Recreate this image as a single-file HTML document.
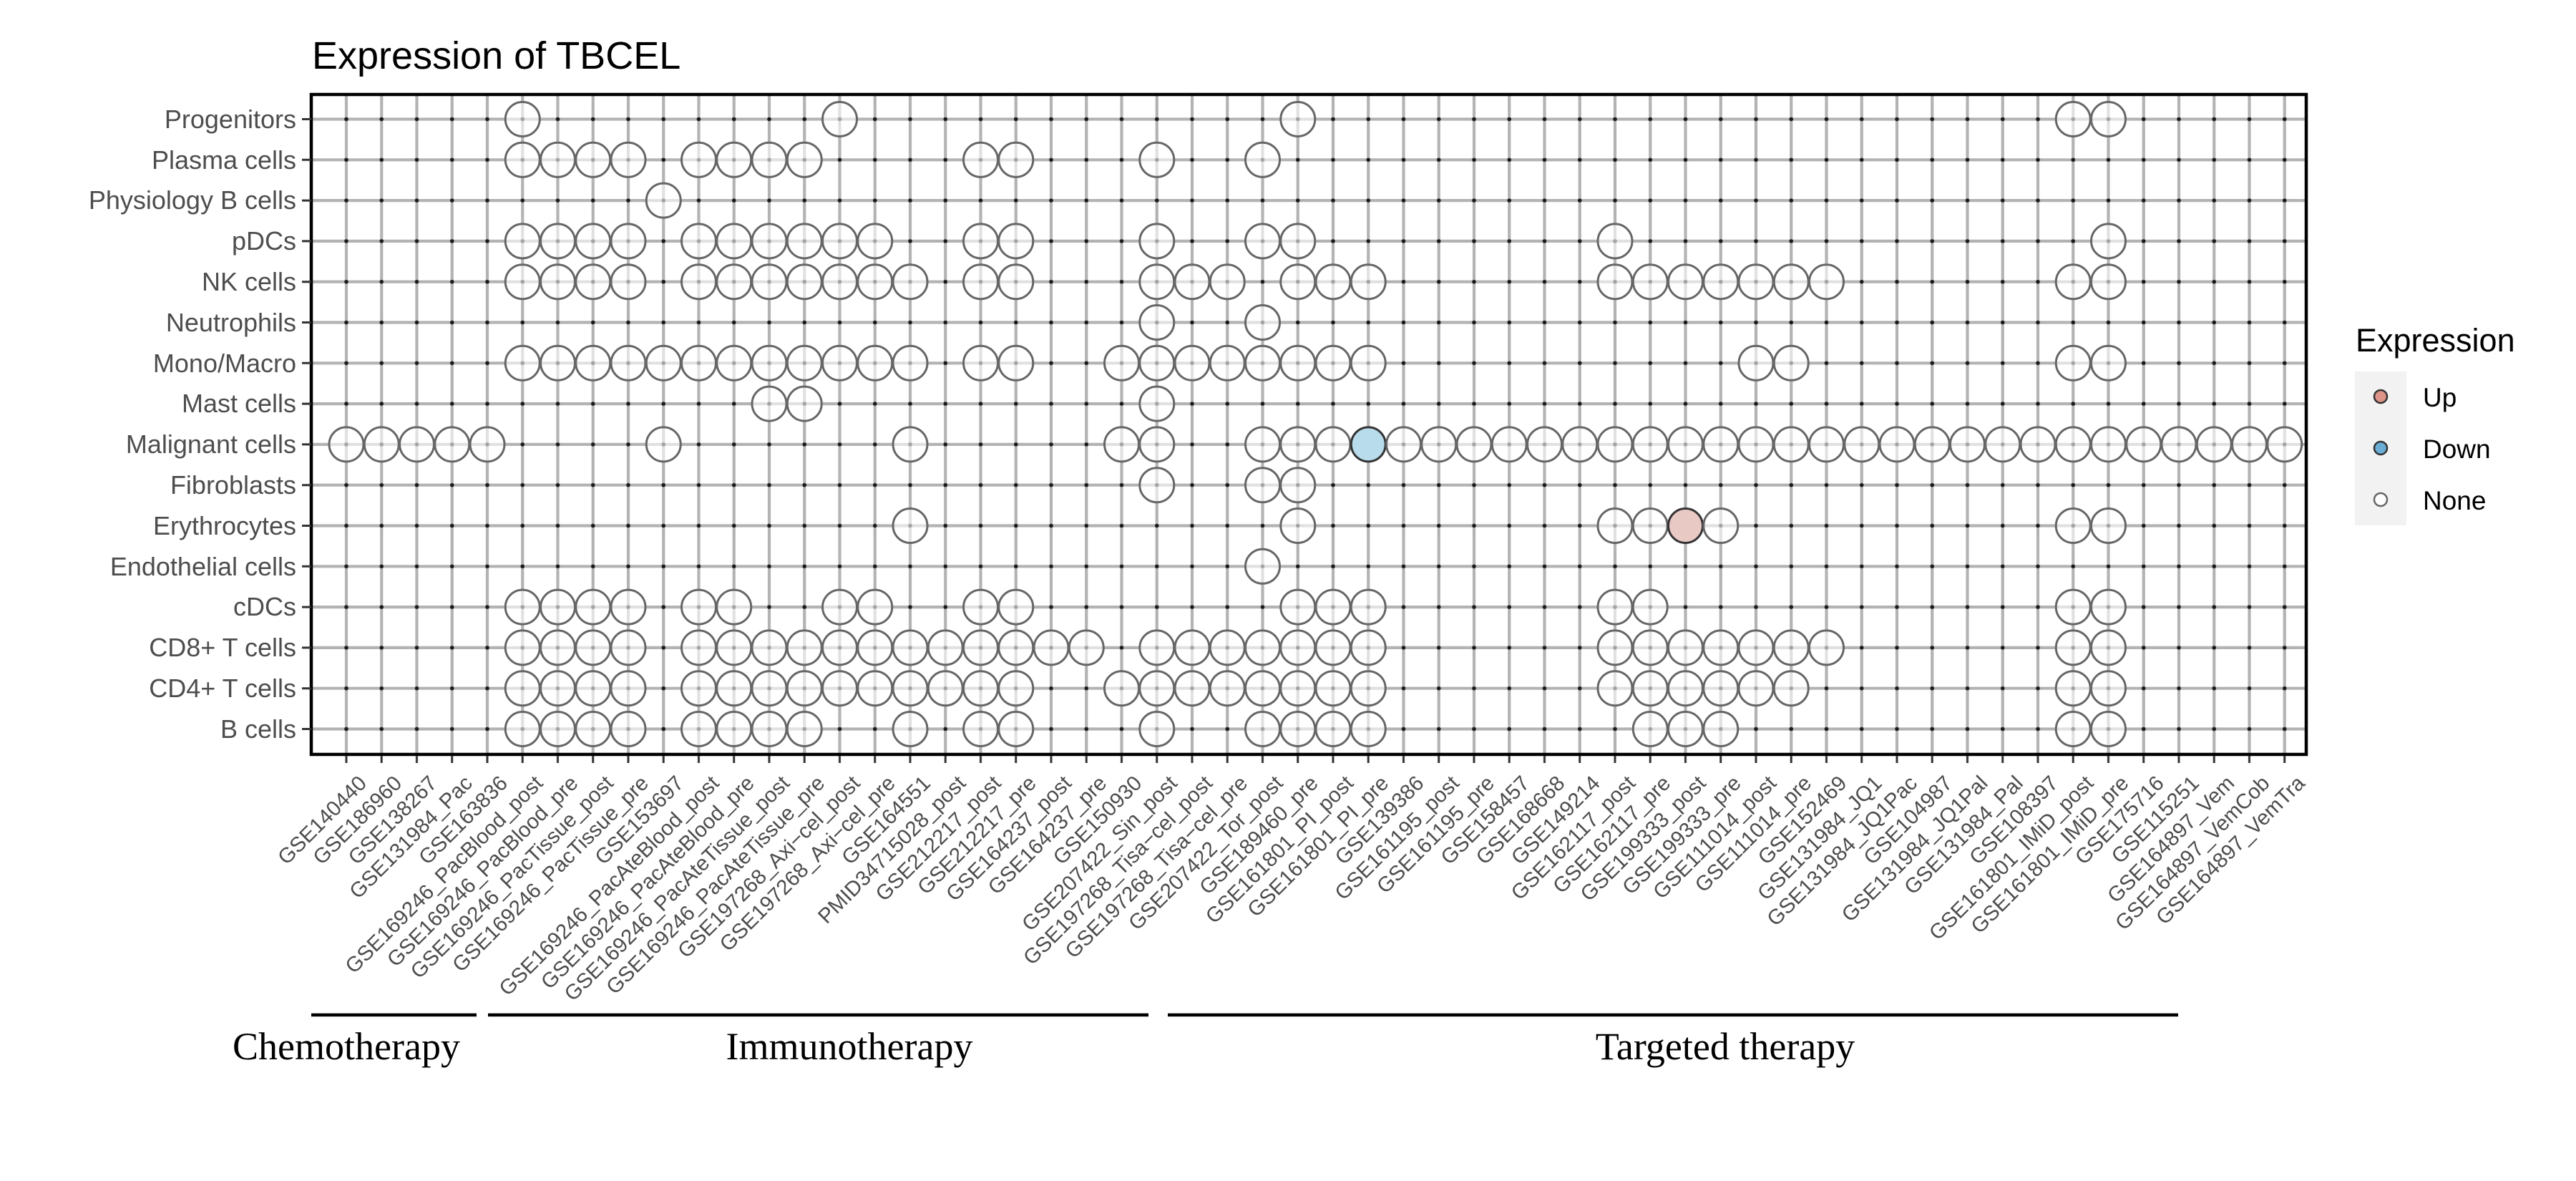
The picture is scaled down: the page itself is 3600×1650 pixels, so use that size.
<!DOCTYPE html>
<html><head><meta charset="utf-8"><style>
html,body{margin:0;padding:0;background:#fff;}
svg{display:block;}
.yl{font-family:"Liberation Sans",sans-serif;font-size:36px;fill:#4d4d4d;text-anchor:end;}
.xl{font-family:"Liberation Sans",sans-serif;font-size:29.5px;fill:#4d4d4d;text-anchor:end;}
.g{font-family:"Liberation Serif",serif;font-size:54px;fill:#000;text-anchor:middle;}
</style></head><body>
<svg width="3600" height="1650" viewBox="0 0 3600 1650" xmlns="http://www.w3.org/2000/svg">
<defs>
<pattern id="dp" patternUnits="userSpaceOnUse" x="459.375" y="138.1" width="49.25" height="56.8"><circle cx="24.625" cy="28.4" r="2.8" fill="#1a1a1a"/></pattern>
<pattern id="tp" patternUnits="userSpaceOnUse" x="459.375" y="0" width="49.25" height="2000"><rect x="23.1" y="0" width="3" height="2000" fill="#333"/></pattern>
<circle id="n" cx="0" cy="0" r="24" fill="#fff" fill-opacity="0.6" stroke="#666" stroke-width="3"/>
</defs>
<text x="436" y="96" font-family="Liberation Sans, sans-serif" font-size="54" fill="#000">Expression of TBCEL</text>
<rect x="435" y="132" width="2788" height="922" fill="#fff"/>
<g stroke="#b3b3b3" stroke-width="4.2" fill="none">
<path d="M484 132V1054M533.25 132V1054M582.5 132V1054M631.75 132V1054M681 132V1054M730.25 132V1054M779.5 132V1054M828.75 132V1054M878 132V1054M927.25 132V1054M976.5 132V1054M1025.75 132V1054M1075 132V1054M1124.25 132V1054M1173.5 132V1054M1222.75 132V1054M1272 132V1054M1321.25 132V1054M1370.5 132V1054M1419.75 132V1054M1469 132V1054M1518.25 132V1054M1567.5 132V1054M1616.75 132V1054M1666 132V1054M1715.25 132V1054M1764.5 132V1054M1813.75 132V1054M1863 132V1054M1912.25 132V1054M1961.5 132V1054M2010.75 132V1054M2060 132V1054M2109.25 132V1054M2158.5 132V1054M2207.75 132V1054M2257 132V1054M2306.25 132V1054M2355.5 132V1054M2404.75 132V1054M2454 132V1054M2503.25 132V1054M2552.5 132V1054M2601.75 132V1054M2651 132V1054M2700.25 132V1054M2749.5 132V1054M2798.75 132V1054M2848 132V1054M2897.25 132V1054M2946.5 132V1054M2995.75 132V1054M3045 132V1054M3094.25 132V1054M3143.5 132V1054M3192.75 132V1054"/>
<path d="M435 166.5H3223M435 223.3H3223M435 280.1H3223M435 336.9H3223M435 393.7H3223M435 450.5H3223M435 507.3H3223M435 564.1H3223M435 620.9H3223M435 677.7H3223M435 734.5H3223M435 791.3H3223M435 848.1H3223M435 904.9H3223M435 961.7H3223M435 1018.5H3223"/>
</g>
<rect x="459.375" y="138.1" width="2758" height="908.8" fill="url(#dp)"/>
<g transform="translate(0,166.5)"><use href="#n" x="730.25"/><use href="#n" x="1173.5"/><use href="#n" x="1813.75"/><use href="#n" x="2897.25"/><use href="#n" x="2946.5"/></g>
<g transform="translate(0,223.3)"><use href="#n" x="730.25"/><use href="#n" x="779.5"/><use href="#n" x="828.75"/><use href="#n" x="878"/><use href="#n" x="976.5"/><use href="#n" x="1025.75"/><use href="#n" x="1075"/><use href="#n" x="1124.25"/><use href="#n" x="1370.5"/><use href="#n" x="1419.75"/><use href="#n" x="1616.75"/><use href="#n" x="1764.5"/></g>
<g transform="translate(0,280.1)"><use href="#n" x="927.25"/></g>
<g transform="translate(0,336.9)"><use href="#n" x="730.25"/><use href="#n" x="779.5"/><use href="#n" x="828.75"/><use href="#n" x="878"/><use href="#n" x="976.5"/><use href="#n" x="1025.75"/><use href="#n" x="1075"/><use href="#n" x="1124.25"/><use href="#n" x="1173.5"/><use href="#n" x="1222.75"/><use href="#n" x="1370.5"/><use href="#n" x="1419.75"/><use href="#n" x="1616.75"/><use href="#n" x="1764.5"/><use href="#n" x="1813.75"/><use href="#n" x="2257"/><use href="#n" x="2946.5"/></g>
<g transform="translate(0,393.7)"><use href="#n" x="730.25"/><use href="#n" x="779.5"/><use href="#n" x="828.75"/><use href="#n" x="878"/><use href="#n" x="976.5"/><use href="#n" x="1025.75"/><use href="#n" x="1075"/><use href="#n" x="1124.25"/><use href="#n" x="1173.5"/><use href="#n" x="1222.75"/><use href="#n" x="1272"/><use href="#n" x="1370.5"/><use href="#n" x="1419.75"/><use href="#n" x="1616.75"/><use href="#n" x="1666"/><use href="#n" x="1715.25"/><use href="#n" x="1813.75"/><use href="#n" x="1863"/><use href="#n" x="1912.25"/><use href="#n" x="2257"/><use href="#n" x="2306.25"/><use href="#n" x="2355.5"/><use href="#n" x="2404.75"/><use href="#n" x="2454"/><use href="#n" x="2503.25"/><use href="#n" x="2552.5"/><use href="#n" x="2897.25"/><use href="#n" x="2946.5"/></g>
<g transform="translate(0,450.5)"><use href="#n" x="1616.75"/><use href="#n" x="1764.5"/></g>
<g transform="translate(0,507.3)"><use href="#n" x="730.25"/><use href="#n" x="779.5"/><use href="#n" x="828.75"/><use href="#n" x="878"/><use href="#n" x="927.25"/><use href="#n" x="976.5"/><use href="#n" x="1025.75"/><use href="#n" x="1075"/><use href="#n" x="1124.25"/><use href="#n" x="1173.5"/><use href="#n" x="1222.75"/><use href="#n" x="1272"/><use href="#n" x="1370.5"/><use href="#n" x="1419.75"/><use href="#n" x="1567.5"/><use href="#n" x="1616.75"/><use href="#n" x="1666"/><use href="#n" x="1715.25"/><use href="#n" x="1764.5"/><use href="#n" x="1813.75"/><use href="#n" x="1863"/><use href="#n" x="1912.25"/><use href="#n" x="2454"/><use href="#n" x="2503.25"/><use href="#n" x="2897.25"/><use href="#n" x="2946.5"/></g>
<g transform="translate(0,564.1)"><use href="#n" x="1075"/><use href="#n" x="1124.25"/><use href="#n" x="1616.75"/></g>
<g transform="translate(0,620.9)"><use href="#n" x="484"/><use href="#n" x="533.25"/><use href="#n" x="582.5"/><use href="#n" x="631.75"/><use href="#n" x="681"/><use href="#n" x="927.25"/><use href="#n" x="1272"/><use href="#n" x="1567.5"/><use href="#n" x="1616.75"/><use href="#n" x="1764.5"/><use href="#n" x="1813.75"/><use href="#n" x="1863"/><circle cx="1912.25" cy="0" r="24" fill="#b9dcec" stroke="#333" stroke-width="3"/><use href="#n" x="1961.5"/><use href="#n" x="2010.75"/><use href="#n" x="2060"/><use href="#n" x="2109.25"/><use href="#n" x="2158.5"/><use href="#n" x="2207.75"/><use href="#n" x="2257"/><use href="#n" x="2306.25"/><use href="#n" x="2355.5"/><use href="#n" x="2404.75"/><use href="#n" x="2454"/><use href="#n" x="2503.25"/><use href="#n" x="2552.5"/><use href="#n" x="2601.75"/><use href="#n" x="2651"/><use href="#n" x="2700.25"/><use href="#n" x="2749.5"/><use href="#n" x="2798.75"/><use href="#n" x="2848"/><use href="#n" x="2897.25"/><use href="#n" x="2946.5"/><use href="#n" x="2995.75"/><use href="#n" x="3045"/><use href="#n" x="3094.25"/><use href="#n" x="3143.5"/><use href="#n" x="3192.75"/></g>
<g transform="translate(0,677.7)"><use href="#n" x="1616.75"/><use href="#n" x="1764.5"/><use href="#n" x="1813.75"/></g>
<g transform="translate(0,734.5)"><use href="#n" x="1272"/><use href="#n" x="1813.75"/><use href="#n" x="2257"/><use href="#n" x="2306.25"/><circle cx="2355.5" cy="0" r="24" fill="#e9c9c4" stroke="#333" stroke-width="3"/><use href="#n" x="2404.75"/><use href="#n" x="2897.25"/><use href="#n" x="2946.5"/></g>
<g transform="translate(0,791.3)"><use href="#n" x="1764.5"/></g>
<g transform="translate(0,848.1)"><use href="#n" x="730.25"/><use href="#n" x="779.5"/><use href="#n" x="828.75"/><use href="#n" x="878"/><use href="#n" x="976.5"/><use href="#n" x="1025.75"/><use href="#n" x="1173.5"/><use href="#n" x="1222.75"/><use href="#n" x="1370.5"/><use href="#n" x="1419.75"/><use href="#n" x="1813.75"/><use href="#n" x="1863"/><use href="#n" x="1912.25"/><use href="#n" x="2257"/><use href="#n" x="2306.25"/><use href="#n" x="2897.25"/><use href="#n" x="2946.5"/></g>
<g transform="translate(0,904.9)"><use href="#n" x="730.25"/><use href="#n" x="779.5"/><use href="#n" x="828.75"/><use href="#n" x="878"/><use href="#n" x="976.5"/><use href="#n" x="1025.75"/><use href="#n" x="1075"/><use href="#n" x="1124.25"/><use href="#n" x="1173.5"/><use href="#n" x="1222.75"/><use href="#n" x="1272"/><use href="#n" x="1321.25"/><use href="#n" x="1370.5"/><use href="#n" x="1419.75"/><use href="#n" x="1469"/><use href="#n" x="1518.25"/><use href="#n" x="1616.75"/><use href="#n" x="1666"/><use href="#n" x="1715.25"/><use href="#n" x="1764.5"/><use href="#n" x="1813.75"/><use href="#n" x="1863"/><use href="#n" x="1912.25"/><use href="#n" x="2257"/><use href="#n" x="2306.25"/><use href="#n" x="2355.5"/><use href="#n" x="2404.75"/><use href="#n" x="2454"/><use href="#n" x="2503.25"/><use href="#n" x="2552.5"/><use href="#n" x="2897.25"/><use href="#n" x="2946.5"/></g>
<g transform="translate(0,961.7)"><use href="#n" x="730.25"/><use href="#n" x="779.5"/><use href="#n" x="828.75"/><use href="#n" x="878"/><use href="#n" x="976.5"/><use href="#n" x="1025.75"/><use href="#n" x="1075"/><use href="#n" x="1124.25"/><use href="#n" x="1173.5"/><use href="#n" x="1222.75"/><use href="#n" x="1272"/><use href="#n" x="1321.25"/><use href="#n" x="1370.5"/><use href="#n" x="1419.75"/><use href="#n" x="1567.5"/><use href="#n" x="1616.75"/><use href="#n" x="1666"/><use href="#n" x="1715.25"/><use href="#n" x="1764.5"/><use href="#n" x="1813.75"/><use href="#n" x="1863"/><use href="#n" x="1912.25"/><use href="#n" x="2257"/><use href="#n" x="2306.25"/><use href="#n" x="2355.5"/><use href="#n" x="2404.75"/><use href="#n" x="2454"/><use href="#n" x="2503.25"/><use href="#n" x="2897.25"/><use href="#n" x="2946.5"/></g>
<g transform="translate(0,1018.5)"><use href="#n" x="730.25"/><use href="#n" x="779.5"/><use href="#n" x="828.75"/><use href="#n" x="878"/><use href="#n" x="976.5"/><use href="#n" x="1025.75"/><use href="#n" x="1075"/><use href="#n" x="1124.25"/><use href="#n" x="1272"/><use href="#n" x="1370.5"/><use href="#n" x="1419.75"/><use href="#n" x="1616.75"/><use href="#n" x="1764.5"/><use href="#n" x="1813.75"/><use href="#n" x="1863"/><use href="#n" x="1912.25"/><use href="#n" x="2306.25"/><use href="#n" x="2355.5"/><use href="#n" x="2404.75"/><use href="#n" x="2897.25"/><use href="#n" x="2946.5"/></g>
<path d="M435 132H3223V1054H435Z" fill="none" stroke="#000" stroke-width="4.5"/>
<rect x="459.375" y="1056" width="2758" height="10" fill="url(#tp)"/>
<path stroke="#333" stroke-width="3" d="M422 166.5H435M422 223.3H435M422 280.1H435M422 336.9H435M422 393.7H435M422 450.5H435M422 507.3H435M422 564.1H435M422 620.9H435M422 677.7H435M422 734.5H435M422 791.3H435M422 848.1H435M422 904.9H435M422 961.7H435M422 1018.5H435"/>
<g class="yl">
<text x="414" y="179">Progenitors</text>
<text x="414" y="236">Plasma cells</text>
<text x="414" y="292">Physiology B cells</text>
<text x="414" y="349">pDCs</text>
<text x="414" y="406">NK cells</text>
<text x="414" y="463">Neutrophils</text>
<text x="414" y="520">Mono/Macro</text>
<text x="414" y="576">Mast cells</text>
<text x="414" y="633">Malignant cells</text>
<text x="414" y="690">Fibroblasts</text>
<text x="414" y="747">Erythrocytes</text>
<text x="414" y="804">Endothelial cells</text>
<text x="414" y="860">cDCs</text>
<text x="414" y="917">CD8+ T cells</text>
<text x="414" y="974">CD4+ T cells</text>
<text x="414" y="1031">B cells</text>
</g>
<g class="xl">
<text transform="translate(514,1096) rotate(-45)">GSE140440</text>
<text transform="translate(563.25,1096) rotate(-45)">GSE186960</text>
<text transform="translate(612.5,1096) rotate(-45)">GSE138267</text>
<text transform="translate(661.75,1096) rotate(-45)">GSE131984_Pac</text>
<text transform="translate(711,1096) rotate(-45)">GSE163836</text>
<text transform="translate(760.25,1096) rotate(-45)">GSE169246_PacBlood_post</text>
<text transform="translate(809.5,1096) rotate(-45)">GSE169246_PacBlood_pre</text>
<text transform="translate(858.75,1096) rotate(-45)">GSE169246_PacTissue_post</text>
<text transform="translate(908,1096) rotate(-45)">GSE169246_PacTissue_pre</text>
<text transform="translate(957.25,1096) rotate(-45)">GSE153697</text>
<text transform="translate(1006.5,1096) rotate(-45)">GSE169246_PacAteBlood_post</text>
<text transform="translate(1055.75,1096) rotate(-45)">GSE169246_PacAteBlood_pre</text>
<text transform="translate(1105,1096) rotate(-45)">GSE169246_PacAteTissue_post</text>
<text transform="translate(1154.25,1096) rotate(-45)">GSE169246_PacAteTissue_pre</text>
<text transform="translate(1203.5,1096) rotate(-45)">GSE197268_Axi−cel_post</text>
<text transform="translate(1252.75,1096) rotate(-45)">GSE197268_Axi−cel_pre</text>
<text transform="translate(1302,1096) rotate(-45)">GSE164551</text>
<text transform="translate(1351.25,1096) rotate(-45)">PMID34715028_post</text>
<text transform="translate(1400.5,1096) rotate(-45)">GSE212217_post</text>
<text transform="translate(1449.75,1096) rotate(-45)">GSE212217_pre</text>
<text transform="translate(1499,1096) rotate(-45)">GSE164237_post</text>
<text transform="translate(1548.25,1096) rotate(-45)">GSE164237_pre</text>
<text transform="translate(1597.5,1096) rotate(-45)">GSE150930</text>
<text transform="translate(1646.75,1096) rotate(-45)">GSE207422_Sin_post</text>
<text transform="translate(1696,1096) rotate(-45)">GSE197268_Tisa−cel_post</text>
<text transform="translate(1745.25,1096) rotate(-45)">GSE197268_Tisa−cel_pre</text>
<text transform="translate(1794.5,1096) rotate(-45)">GSE207422_Tor_post</text>
<text transform="translate(1843.75,1096) rotate(-45)">GSE189460_pre</text>
<text transform="translate(1893,1096) rotate(-45)">GSE161801_PI_post</text>
<text transform="translate(1942.25,1096) rotate(-45)">GSE161801_PI_pre</text>
<text transform="translate(1991.5,1096) rotate(-45)">GSE139386</text>
<text transform="translate(2040.75,1096) rotate(-45)">GSE161195_post</text>
<text transform="translate(2090,1096) rotate(-45)">GSE161195_pre</text>
<text transform="translate(2139.25,1096) rotate(-45)">GSE158457</text>
<text transform="translate(2188.5,1096) rotate(-45)">GSE168668</text>
<text transform="translate(2237.75,1096) rotate(-45)">GSE149214</text>
<text transform="translate(2287,1096) rotate(-45)">GSE162117_post</text>
<text transform="translate(2336.25,1096) rotate(-45)">GSE162117_pre</text>
<text transform="translate(2385.5,1096) rotate(-45)">GSE199333_post</text>
<text transform="translate(2434.75,1096) rotate(-45)">GSE199333_pre</text>
<text transform="translate(2484,1096) rotate(-45)">GSE111014_post</text>
<text transform="translate(2533.25,1096) rotate(-45)">GSE111014_pre</text>
<text transform="translate(2582.5,1096) rotate(-45)">GSE152469</text>
<text transform="translate(2631.75,1096) rotate(-45)">GSE131984_JQ1</text>
<text transform="translate(2681,1096) rotate(-45)">GSE131984_JQ1Pac</text>
<text transform="translate(2730.25,1096) rotate(-45)">GSE104987</text>
<text transform="translate(2779.5,1096) rotate(-45)">GSE131984_JQ1Pal</text>
<text transform="translate(2828.75,1096) rotate(-45)">GSE131984_Pal</text>
<text transform="translate(2878,1096) rotate(-45)">GSE108397</text>
<text transform="translate(2927.25,1096) rotate(-45)">GSE161801_IMiD_post</text>
<text transform="translate(2976.5,1096) rotate(-45)">GSE161801_IMiD_pre</text>
<text transform="translate(3025.75,1096) rotate(-45)">GSE175716</text>
<text transform="translate(3075,1096) rotate(-45)">GSE115251</text>
<text transform="translate(3124.25,1096) rotate(-45)">GSE164897_Vem</text>
<text transform="translate(3173.5,1096) rotate(-45)">GSE164897_VemCob</text>
<text transform="translate(3222.75,1096) rotate(-45)">GSE164897_VemTra</text>
</g>
<g stroke="#000" stroke-width="4.5">
<path d="M435 1418H666M682 1418H1605M1632 1418H3044"/>
</g>
<text class="g" x="484" y="1480">Chemotherapy</text>
<text class="g" x="1187" y="1480">Immunotherapy</text>
<text class="g" x="2411" y="1480">Targeted therapy</text>
<text x="3292" y="491" font-family="Liberation Sans, sans-serif" font-size="45" fill="#000">Expression</text>
<rect x="3291" y="519" width="72" height="215" fill="#f2f2f2"/>
<circle cx="3327" cy="554" r="9" fill="#df9488" stroke="#333" stroke-width="2.5"/>
<circle cx="3327" cy="626" r="9" fill="#6aaed6" stroke="#333" stroke-width="2.5"/>
<circle cx="3327" cy="698" r="9" fill="#fff" stroke="#666" stroke-width="2.5"/>
<g font-family="Liberation Sans, sans-serif" font-size="37" fill="#000">
<text x="3386" y="568">Up</text>
<text x="3386" y="640">Down</text>
<text x="3386" y="712">None</text>
</g>
</svg>
</body></html>
